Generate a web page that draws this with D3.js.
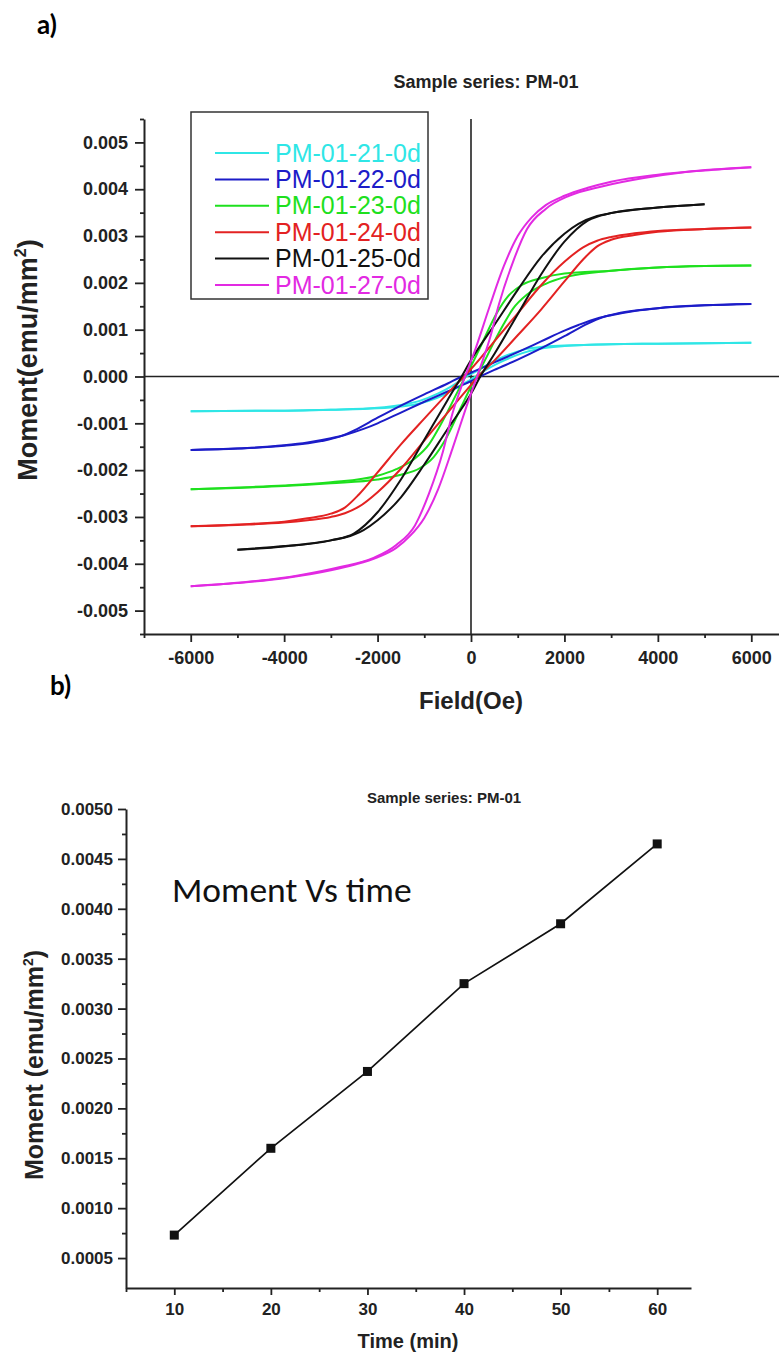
<!DOCTYPE html>
<html><head><meta charset="utf-8">
<script src="https://cdn.jsdelivr.net/npm/d3@7"></script>
<style>
html,body{margin:0;padding:0;background:#fff;}
svg text{font-family:"Liberation Sans",Arial,sans-serif;}
</style></head>
<body>
<svg id="c" width="779" height="1362"></svg>
<script>
// ---------- DATA: chart a) hysteresis loops (field Oe, moment emu/mm2) ----------
const seriesNames = ["PM-01-21-0d","PM-01-22-0d","PM-01-23-0d","PM-01-24-0d","PM-01-25-0d","PM-01-27-0d"];
const seriesColors = ["#2fe6e6","#1c1cc8","#1ee01e","#e32222","#111111","#e22ae2"];

// upper branch (field decreasing) and lower branch (field increasing)
const s21Upper = [[6000,.00072],[5000,.00071],[4000,.00070],[3000,.00069],[2000,.00066],[1500,.00063],[1200,.00059],[900,.00050],[600,.00038],[300,.00022],[0,.00005],[-100,0],[-400,-.00020],[-700,-.00036],[-1100,-.00052],[-1500,-.00061],[-2000,-.00067],[-3000,-.00071],[-4000,-.00073],[-6000,-.00074]];
const s21Lower = [[-6000,-.00074],[-4000,-.00073],[-3000,-.00071],[-2000,-.00068],[-1500,-.00064],[-1200,-.00060],[-900,-.00052],[-600,-.00040],[-300,-.00024],[0,-.00006],[100,0],[400,.00019],[700,.00034],[1100,.00050],[1500,.00060],[2000,.00065],[3000,.00069],[4000,.00070],[6000,.00072]];

const s22Upper = [[6000,.00155],[5000,.00152],[4000,.00146],[3500,.00140],[3000,.00131],[2700,.00124],[2300,.00110],[2000,.00098],[1500,.00075],[1000,.00052],[500,.00030],[0,.00008],[-200,0],[-500,-.00015],[-1000,-.00038],[-1500,-.00062],[-2000,-.00088],[-2500,-.00115],[-2800,-.00128],[-3200,-.00138],[-4000,-.00148],[-5000,-.00154],[-6000,-.00157]];
const s22Lower = [[-6000,-.00157],[-5000,-.00154],[-4000,-.00147],[-3500,-.00141],[-3000,-.00132],[-2700,-.00125],[-2300,-.00112],[-2000,-.00100],[-1500,-.00077],[-1000,-.00054],[-500,-.00032],[0,-.00010],[200,0],[500,.00014],[1000,.00036],[1500,.00060],[2000,.00086],[2500,.00113],[2800,.00126],[3200,.00136],[4000,.00146],[5000,.00152],[6000,.00155]];

const s23Upper = [[6000,.00237],[5000,.00236],[4000,.00233],[3000,.00226],[2000,.00220],[1500,.00210],[1100,.00196],[800,.00172],[550,.00135],[200,.00063],[0,.00022],[-120,0],[-300,-.00035],[-500,-.00075],[-700,-.00112],[-900,-.00145],[-1200,-.00175],[-1600,-.00198],[-2000,-.00212],[-3000,-.00226],[-4000,-.00233],[-5000,-.00237],[-6000,-.00241]];
const s23Lower = [[-6000,-.00241],[-5000,-.00238],[-4000,-.00234],[-3000,-.00228],[-2000,-.00220],[-1500,-.00210],[-1100,-.00196],[-800,-.00172],[-550,-.00135],[-200,-.00063],[0,-.00022],[120,0],[300,.00035],[500,.00075],[700,.00112],[900,.00145],[1200,.00175],[1600,.00198],[2000,.00212],[3000,.00226],[4000,.00233],[5000,.00236],[6000,.00237]];

const s24Upper = [[6000,.00318],[5000,.00315],[4000,.00311],[3500,.00306],[3000,.00298],[2700,.00290],[2400,.00276],[2000,.00245],[1500,.00195],[1000,.00135],[500,.00075],[0,.00016],[-150,0],[-500,-.00036],[-1000,-.00090],[-1500,-.00145],[-2000,-.00205],[-2400,-.00252],[-2700,-.00280],[-3000,-.00293],[-3500,-.00303],[-4000,-.00310],[-5000,-.00316],[-6000,-.00320]];
const s24Lower = [[-6000,-.00320],[-5000,-.00317],[-4000,-.00312],[-3500,-.00307],[-3000,-.00300],[-2700,-.00292],[-2400,-.00278],[-2000,-.00247],[-1500,-.00197],[-1000,-.00137],[-500,-.00077],[0,-.00018],[150,0],[500,.00034],[1000,.00088],[1500,.00143],[2000,.00203],[2400,.00250],[2700,.00278],[3000,.00292],[3500,.00302],[4000,.00309],[5000,.00315],[6000,.00318]];

const s25Upper = [[5000,.00368],[4000,.00361],[3500,.00356],[3000,.00349],[2700,.00343],[2300,.00326],[2000,.00305],[1500,.00255],[1000,.00185],[500,.00110],[0,.00035],[-200,0],[-500,-.00050],[-1000,-.00135],[-1500,-.00220],[-2000,-.00290],[-2500,-.00335],[-3000,-.00350],[-4000,-.00363],[-5000,-.00370]];
const s25Lower = [[-5000,-.00370],[-4000,-.00362],[-3500,-.00357],[-3000,-.00350],[-2700,-.00344],[-2300,-.00328],[-2000,-.00307],[-1500,-.00258],[-1000,-.00188],[-500,-.00112],[0,-.00037],[200,0],[500,.00048],[1000,.00133],[1500,.00218],[2000,.00288],[2500,.00333],[3000,.00349],[4000,.00361],[5000,.00368]];

const s27Upper = [[6000,.00447],[5000,.00440],[4000,.00431],[3000,.00416],[2500,.00403],[2000,.00386],[1600,.00366],[1300,.00340],[1000,.00300],[700,.00235],[400,.00150],[100,.00060],[-200,-.00020],[-400,-.00080],[-600,-.00160],[-900,-.00250],[-1200,-.00318],[-1600,-.00360],[-2100,-.00388],[-2800,-.00407],[-3700,-.00425],[-4600,-.00437],[-6000,-.00448]];
const s27Lower = [[-6000,-.00448],[-5000,-.00441],[-4000,-.00431],[-3000,-.00414],[-2500,-.00402],[-2000,-.00386],[-1600,-.00366],[-1300,-.00340],[-1000,-.00302],[-700,-.00240],[-400,-.00155],[-100,-.00065],[200,.00020],[400,.00080],[600,.00155],[900,.00245],[1200,.00315],[1600,.00358],[2100,.00386],[2800,.00406],[3700,.00424],[4600,.00437],[6000,.00447]];

const loops = [[s21Upper,s21Lower],[s22Upper,s22Lower],[s23Upper,s23Lower],[s24Upper,s24Lower],[s25Upper,s25Lower],[s27Upper,s27Lower]];

const fieldTicks = [-6000,-4000,-2000,0,2000,4000,6000];
const fieldMinor = [-7000,-5000,-3000,-1000,1000,3000,5000,7000];
const momentTicksA = [-0.005,-0.004,-0.003,-0.002,-0.001,0,0.001,0.002,0.003,0.004,0.005];
const momentMinorA = [-0.0055,-0.0045,-0.0035,-0.0025,-0.0015,-0.0005,0.0005,0.0015,0.0025,0.0035,0.0045,0.0055];

// ---------- DATA: chart b) moment vs time ----------
const timeMin = [10,20,30,40,50,60];
const momentB = [0.00073,0.00160,0.00237,0.00325,0.00385,0.00465];
const timeTicks = [10,20,30,40,50,60];
const timeMinor = [5,15,25,35,45,55];
const momentTicksB = [0.0005,0.0010,0.0015,0.0020,0.0025,0.0030,0.0035,0.0040,0.0045,0.0050];
const momentMinorB = [0.00075,0.00125,0.00175,0.00225,0.00275,0.00325,0.00375,0.00425,0.00475];

// ---------- DRAW ----------
const svg = d3.select("#c");

// panel labels
svg.append("text").attr("x",37).attr("y",34).text("a)")
  .style("font-family","Lato, 'Open Sans', sans-serif").style("font-weight","bold").style("font-size","26px");
svg.append("text").attr("x",50).attr("y",695).text("b)")
  .style("font-family","Lato, 'Open Sans', sans-serif").style("font-weight","bold").style("font-size","26px");

// ===== chart a =====
const xA = d3.scaleLinear().domain([-7000,7000]).range([144,798]);
const yA = d3.scaleLinear().domain([-0.0055,0.0055]).range([634,119]);

const gA = svg.append("g");
// zero lines
gA.append("line").attr("x1",xA(-7000)).attr("x2",xA(7000)).attr("y1",yA(0)).attr("y2",yA(0))
  .attr("stroke","#222").attr("stroke-width",1.6);
gA.append("line").attr("x1",xA(0)).attr("x2",xA(0)).attr("y1",yA(0.0055)).attr("y2",yA(-0.0055))
  .attr("stroke","#222").attr("stroke-width",1.6);

function styleAxis(g, fs){
  g.selectAll(".domain").attr("stroke","#222").attr("stroke-width",2);
  g.selectAll(".tick line").attr("stroke","#222").attr("stroke-width",1.8);
  g.selectAll(".tick text").attr("fill","#222")
    .style("font-family","'Liberation Sans',Arial,sans-serif").style("font-weight","bold").style("font-size",fs+"px");
}

const axYA = gA.append("g").attr("transform",`translate(${xA(-7000)},0)`)
  .call(d3.axisLeft(yA).tickValues(momentTicksA).tickSize(9).tickSizeOuter(0).tickPadding(7)
    .tickFormat(d=>d.toFixed(3)));
styleAxis(axYA,18);
const axYAm = gA.append("g").attr("transform",`translate(${xA(-7000)},0)`)
  .call(d3.axisLeft(yA).tickValues(momentMinorA).tickSize(4).tickFormat(""));
axYAm.select(".domain").remove(); styleAxis(axYAm,18);

const axXA = gA.append("g").attr("transform",`translate(0,${yA(-0.0055)})`)
  .call(d3.axisBottom(xA).tickValues(fieldTicks).tickSize(8).tickSizeOuter(0).tickPadding(9)
    .tickFormat(d=>String(d)));
styleAxis(axXA,18);
const axXAm = gA.append("g").attr("transform",`translate(0,${yA(-0.0055)})`)
  .call(d3.axisBottom(xA).tickValues(fieldMinor).tickSize(4).tickFormat(""));
axXAm.select(".domain").remove(); styleAxis(axXAm,18);

// curves
const lineA = d3.line().x(d=>xA(d[0])).y(d=>yA(d[1])).curve(d3.curveMonotoneX);
loops.forEach((pair,i)=>{
  pair.forEach(branch=>{
    const pts = branch.slice().sort((a,b)=>a[0]-b[0]);
    gA.append("path").attr("d",lineA(pts)).attr("fill","none")
      .attr("stroke",seriesColors[i]).attr("stroke-width",2).attr("stroke-linejoin","round");
  });
});

// legend
const lg = gA.append("g");
lg.append("rect").attr("x",191).attr("y",112).attr("width",237).attr("height",187)
  .attr("fill","#fff").attr("stroke","#333").attr("stroke-width",1.5);
seriesNames.forEach((n,i)=>{
  const yy = 153 + i*26.4;
  lg.append("line").attr("x1",215).attr("x2",269).attr("y1",yy).attr("y2",yy)
    .attr("stroke",seriesColors[i]).attr("stroke-width",2);
  lg.append("text").attr("x",275).attr("y",yy+8.5).text(n).attr("fill",seriesColors[i])
    .style("font-size","25px");
});

// titles
gA.append("text").attr("x",486).attr("y",88).attr("text-anchor","middle").text("Sample series: PM-01")
  .style("font-weight","bold").style("font-size","18px").attr("fill","#222");
gA.append("text").attr("x",471).attr("y",709).attr("text-anchor","middle").text("Field(Oe)")
  .style("font-weight","bold").style("font-size","24px").attr("fill","#222");
const ylA = gA.append("text").attr("transform","translate(37,360) rotate(-90)").attr("text-anchor","middle")
  .style("font-weight","bold").style("font-size","27px").attr("fill","#222");
ylA.append("tspan").text("Moment(emu/mm");
ylA.append("tspan").attr("dy",-11).style("font-size","16px").text("2");
ylA.append("tspan").attr("dy",11).text(")");

// ===== chart b =====
const xB = d3.scaleLinear().domain([5,63.5]).range([126,691]);
const yB = d3.scaleLinear().domain([0.0002,0.005]).range([1288,809]);
const gB = svg.append("g");

const axYB = gB.append("g").attr("transform",`translate(${xB(5)},0)`)
  .call(d3.axisLeft(yB).tickValues(momentTicksB).tickSize(8).tickSizeOuter(0).tickPadding(5)
    .tickFormat(d=>d.toFixed(4)));
styleAxis(axYB,17);
const axYBm = gB.append("g").attr("transform",`translate(${xB(5)},0)`)
  .call(d3.axisLeft(yB).tickValues(momentMinorB).tickSize(4).tickFormat(""));
axYBm.select(".domain").remove(); styleAxis(axYBm,17);

const axXB = gB.append("g").attr("transform",`translate(0,${yB(0.0002)})`)
  .call(d3.axisBottom(xB).tickValues(timeTicks).tickSize(7).tickSizeOuter(0).tickPadding(8)
    .tickFormat(d=>String(d)));
styleAxis(axXB,17);
const axXBm = gB.append("g").attr("transform",`translate(0,${yB(0.0002)})`)
  .call(d3.axisBottom(xB).tickValues(timeMinor).tickSize(4).tickFormat(""));
axXBm.select(".domain").remove(); styleAxis(axXBm,17);

const ptsB = timeMin.map((t,i)=>[t,momentB[i]]);
gB.append("path").attr("d",d3.line().x(d=>xB(d[0])).y(d=>yB(d[1]))(ptsB))
  .attr("fill","none").attr("stroke","#111").attr("stroke-width",1.7);
gB.selectAll("rect.m").data(ptsB).enter().append("rect").attr("class","m")
  .attr("x",d=>xB(d[0])-4.5).attr("y",d=>yB(d[1])-4.5).attr("width",9).attr("height",9).attr("fill","#111");

gB.append("text").attr("x",444).attr("y",803).attr("text-anchor","middle").text("Sample series: PM-01")
  .style("font-weight","bold").style("font-size","15px").attr("fill","#222");
gB.append("text").attr("x",408).attr("y",1348).attr("text-anchor","middle").text("Time (min)")
  .style("font-weight","bold").style("font-size","20px").attr("fill","#222");
const ylB = gB.append("text").attr("transform","translate(43,1065) rotate(-90)").attr("text-anchor","middle")
  .style("font-weight","bold").style("font-size","25px").attr("fill","#222");
ylB.append("tspan").text("Moment (emu/mm");
ylB.append("tspan").attr("dy",-10).style("font-size","14px").text("2");
ylB.append("tspan").attr("dy",10).text(")");

gB.append("text").attr("x",172).attr("y",902).text("Moment Vs time")
  .style("font-family","Carlito, Lato, 'Open Sans', sans-serif").style("font-size","35.5px").attr("fill","#111");
</script>
</body></html>
